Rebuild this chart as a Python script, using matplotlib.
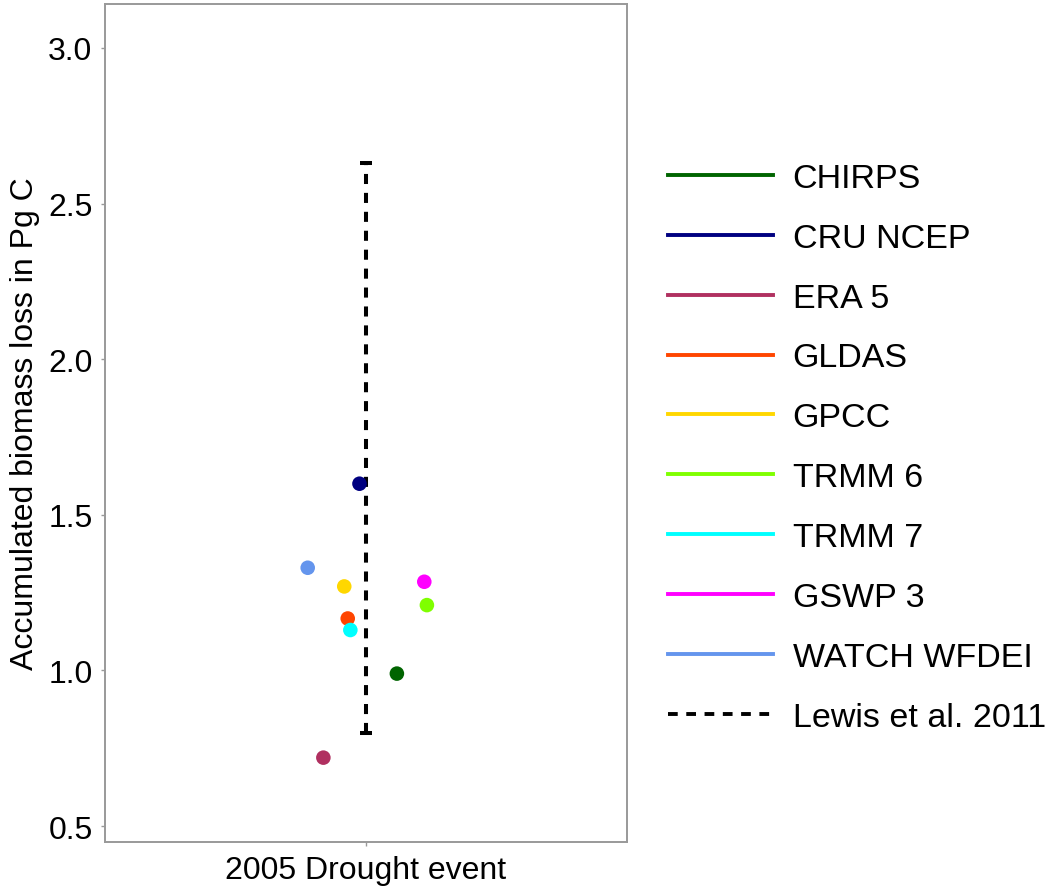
import numpy as np
import matplotlib.pyplot as plt
from matplotlib.lines import Line2D

plt.rcParams['font.family'] = ['Liberation Sans', 'DejaVu Sans']

# Data
category = '2005 Drought event'
datasets = ['CHIRPS', 'CRU NCEP', 'ERA 5', 'GLDAS', 'GPCC',
            'TRMM 6', 'TRMM 7', 'GSWP 3', 'WATCH WFDEI']
losses = [0.99, 1.60, 0.72, 1.167, 1.27, 1.21, 1.13, 1.285, 1.33]
jitter = [0.071, -0.015, -0.098, -0.042, -0.050, 0.140, -0.036, 0.134, -0.134]
colors = ['#006400', '#000080', '#B03060', '#FF4500', '#FFD700',
          '#7FFF00', '#00FFFF', '#FF00FF', '#6495ED']

lewis_label = 'Lewis et al. 2011'
lewis_low, lewis_high = 0.80, 2.63

fig = plt.figure(figsize=(10.49, 8.95), dpi=100)
ax = fig.add_axes([0.1001, 0.0581, 0.4976, 0.9363])

# Lewis et al. range as dashed error bar
xc = 1
ax.plot([xc, xc], [lewis_low, lewis_high], color='black', lw=2.9,
        linestyle=(0, (2.5, 2.2)), zorder=2)
cap = 0.013
for yv in (lewis_low, lewis_high):
    ax.plot([xc - cap, xc + cap], [yv, yv], color='black', lw=2.9,
            solid_capstyle='butt', zorder=2)

# jittered points per dataset
for name, y, dx, c in zip(datasets, losses, jitter, colors):
    ax.scatter(xc + dx, y, s=110, color=c, edgecolors='none', zorder=3)

ax.set_xlim(0.4, 1.6)
ax.set_ylim(0.449, 3.141)
ax.set_xticks([xc])
ax.set_xticklabels([category], fontsize=23)
ax.set_yticks([0.5, 1.0, 1.5, 2.0, 2.5, 3.0])
ax.set_yticklabels(['0.5', '1.0', '1.5', '2.0', '2.5', '3.0'], fontsize=23)
ax.set_ylabel('Accumulated biomass loss in Pg C', fontsize=23, labelpad=6)
ax.tick_params(length=3, color='#999999', width=1, pad=6)
for sp in ax.spines.values():
    sp.set_color('#999999')
    sp.set_linewidth(1.4)

handles = [Line2D([0], [0], color=c, lw=2.8) for c in colors]
handles.append(Line2D([0], [0], color='black', lw=2.8, linestyle=(0, (2.5, 2.2))))
labels = datasets + [lewis_label]
fig.legend(handles, labels, loc='center left', bbox_to_anchor=(0.6238, 0.4985),
           frameon=False, fontsize=24.5, handlelength=3.1, handletextpad=0.56,
           labelspacing=0.85, borderaxespad=0)

fig.savefig('out.png', dpi=100)
